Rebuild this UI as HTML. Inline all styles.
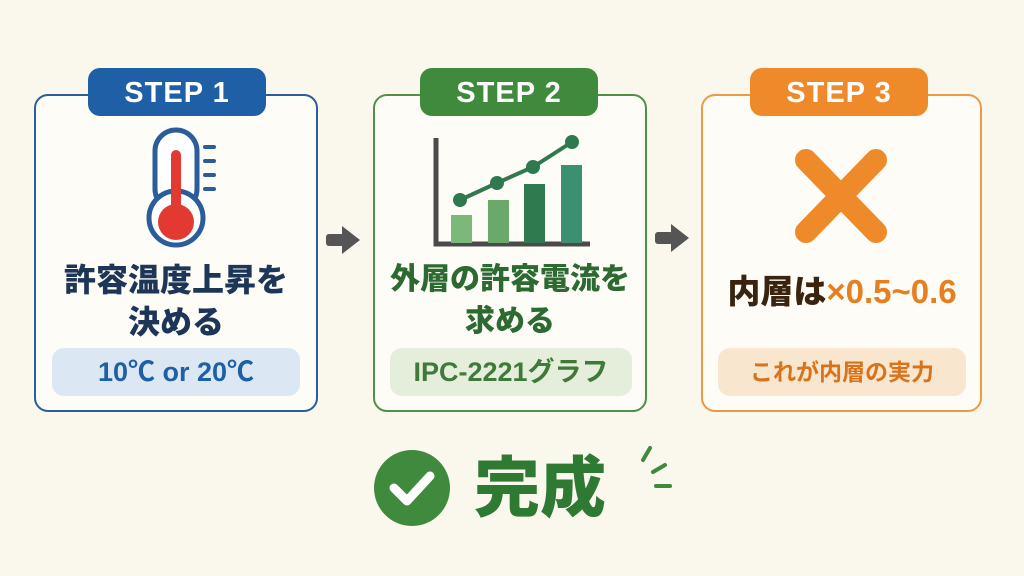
<!DOCTYPE html>
<html><head><meta charset="utf-8"><style>
body{margin:0;width:1024px;height:576px;background:#faf7ec;font-family:"Liberation Sans","Noto Sans CJK JP",sans-serif;position:relative;overflow:hidden}
.card{position:absolute;top:94px;height:318px;border:2px solid;border-radius:14px;background:#fdfcf6;box-sizing:border-box}
.badge{position:absolute;top:68px;width:178px;height:48px;border-radius:12px;color:#fff;font-weight:bold;font-size:29px;text-align:center;line-height:50px;letter-spacing:1px}
.t{position:absolute;width:300px;text-align:center;font-weight:900;font-size:30px;line-height:42px}
.pill{position:absolute;top:348px;height:48px;border-radius:12px;text-align:center;font-weight:bold;font-size:27px;line-height:48px}
</style></head><body>
<div class="card" style="left:34px;width:284px;border-color:#2a5d9a"></div>
<div class="badge" style="left:88px;background:#1f5fa6">STEP 1</div>
<div class="card" style="left:373px;width:274px;border-color:#4f8f4a"></div>
<div class="badge" style="left:420px;background:#3f8a3d">STEP 2</div>
<div class="card" style="left:701px;width:281px;border-color:#ec9a45"></div>
<div class="badge" style="left:750px;background:#ee8a2a">STEP 3</div>
<svg width="1024" height="576" style="position:absolute;left:0;top:0">
<rect x="155" y="130" width="42" height="80" rx="21" fill="#fff" stroke="#2a5d9a" stroke-width="5"/>
<circle cx="176" cy="218" r="27" fill="#fff" stroke="#2a5d9a" stroke-width="5"/>
<rect x="160" y="205" width="32" height="10" fill="#fff"/>
<rect x="171" y="150" width="10" height="70" rx="5" fill="#e23a31"/>
<circle cx="176" cy="222" r="18" fill="#e23a31"/>
<g stroke="#2a5d9a" stroke-width="4" stroke-linecap="round"><line x1="205" y1="147" x2="214" y2="147"/><line x1="205" y1="161" x2="214" y2="161"/><line x1="205" y1="175" x2="214" y2="175"/><line x1="205" y1="189" x2="214" y2="189"/></g>
<polyline points="436,138 436,244 590,244" fill="none" stroke="#4a4a4a" stroke-width="5"/>
<rect x="451" y="215" width="21" height="28" fill="#7cb879"/>
<rect x="488" y="200" width="21" height="43" fill="#6aa96a"/>
<rect x="524" y="184" width="21" height="59" fill="#2f7a4e"/>
<rect x="561" y="165" width="21" height="78" fill="#3a9070"/>
<polyline points="460,200 497,183 533,167 572,142" fill="none" stroke="#2e7a4e" stroke-width="4"/>
<g fill="#2e7a4e"><circle cx="460" cy="200" r="7"/><circle cx="497" cy="183" r="7"/><circle cx="533" cy="167" r="7"/><circle cx="572" cy="142" r="7"/></g>
<g stroke="#ee8a2a" stroke-width="22" stroke-linecap="round"><line x1="806" y1="160" x2="876" y2="232"/><line x1="876" y1="160" x2="806" y2="232"/></g>
<g fill="#555"><rect x="326" y="234" width="18" height="12" rx="3"/><polygon points="342,226 360,240 342,254"/>
<rect x="655" y="232" width="18" height="12" rx="3"/><polygon points="671,224 689,238 671,252"/></g>
<circle cx="412" cy="488" r="38" fill="#3f8a3d"/>
<polyline points="394,488 407,501 430,476" fill="none" stroke="#fff" stroke-width="9" stroke-linecap="round" stroke-linejoin="round"/>
<g stroke="#3f8a3d" stroke-width="4" stroke-linecap="round"><line x1="643" y1="460" x2="650" y2="448"/><line x1="653" y1="472" x2="665" y2="465"/><line x1="656" y1="486" x2="670" y2="486"/></g>
</svg>
<div class="t" style="left:26px;top:259px;color:#1d3556;font-size:32px">許容温度上昇を<br>決める</div>
<div class="pill" style="left:52px;width:248px;background:#dbe8f3;color:#1f5fa6">10℃ or 20℃</div>
<div class="t" style="left:360px;top:259px;color:#2c6a32">外層の許容電流を<br>求める</div>
<div class="pill" style="left:390px;width:242px;background:#e5eedb;color:#3f7a3a">IPC-2221グラフ</div>
<div class="t" style="left:692px;top:271px;color:#3a2410;width:300px;font-size:33px">内層は<span style="color:#e57f1f">×0.5~0.6</span></div>
<div class="pill" style="left:718px;width:248px;background:#f9e6cf;color:#d9731a;font-size:23px">これが内層の実力</div>
<div style="position:absolute;left:474px;top:450px;font-size:66px;font-weight:900;color:#2f7a33;line-height:76px">完成</div>
</body></html>
